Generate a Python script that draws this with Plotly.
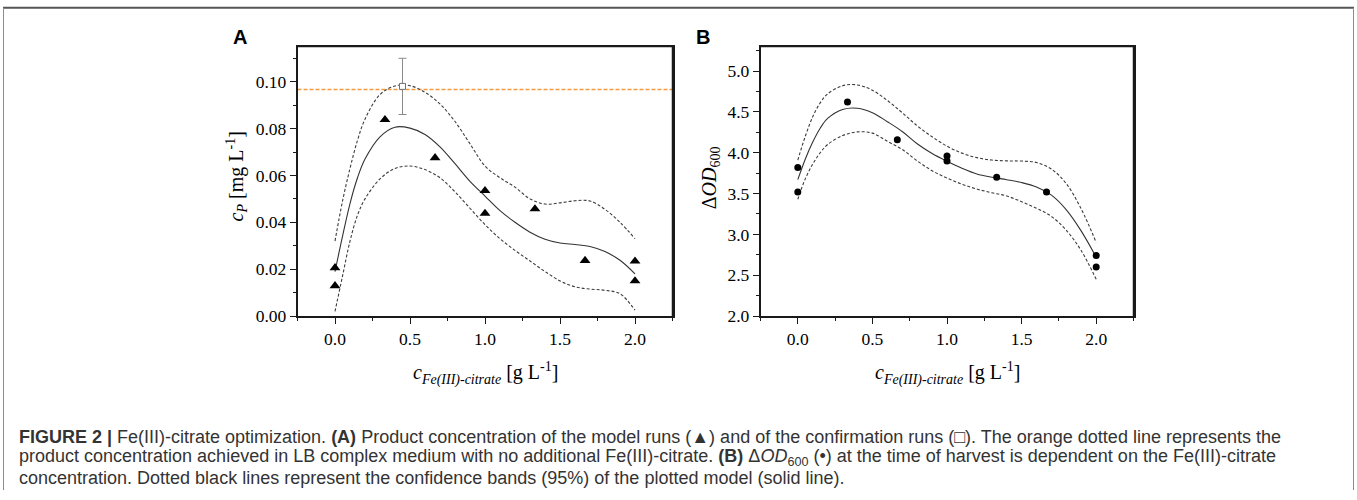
import plotly.graph_objects as go

# ---- Panel A: product concentration vs Fe(III)-citrate ----
fe_runs = [0, 0, 0.333, 0.667, 1.0, 1.0, 1.333, 1.667, 2.0, 2.0]
cp_runs = [0.0206, 0.0129, 0.0838, 0.0675, 0.0535, 0.0438, 0.0457, 0.0237, 0.0234, 0.0150]

confirm_fe = [0.45]
confirm_cp = [0.098]
confirm_err = [0.012]

lb_level = 0.0967  # LB complex medium, no added Fe(III)-citrate

model_fe = [0, 0.05, 0.1, 0.15, 0.2, 0.3, 0.4, 0.5, 0.6, 0.7, 0.8, 0.9, 1.0,
            1.1, 1.2, 1.3, 1.4, 1.5, 1.6, 1.7, 1.8, 1.9, 2.0]
cp_fit = [0.019, 0.034, 0.048, 0.059, 0.067, 0.0765, 0.0806, 0.0802, 0.0775, 0.0722,
          0.0650, 0.0575, 0.0512, 0.0450, 0.0400, 0.0358, 0.0328, 0.0312, 0.0305,
          0.0297, 0.0275, 0.0238, 0.018]
cp_upper = [0.032, 0.049, 0.063, 0.075, 0.084, 0.0945, 0.0982, 0.0983, 0.0955, 0.0905,
            0.0830, 0.0735, 0.0640, 0.0590, 0.0550, 0.0500, 0.0478, 0.0483, 0.0492,
            0.0491, 0.0455, 0.0400, 0.033]
cp_lower = [0.002, 0.017, 0.032, 0.043, 0.050, 0.0585, 0.063, 0.064, 0.0625, 0.059,
            0.053, 0.046, 0.039, 0.033, 0.028, 0.0235, 0.019, 0.015, 0.0125, 0.0115,
            0.011, 0.0095, 0.0025]

# ---- Panel B: delta OD600 vs Fe(III)-citrate ----
od_fe = [0, 0, 0.333, 0.667, 1.0, 1.0, 1.333, 1.667, 2.0, 2.0]
od_vals = [3.82, 3.52, 4.62, 4.16, 3.96, 3.90, 3.70, 3.52, 2.74, 2.60]

od_fit = [3.67, 3.92, 4.13, 4.30, 4.42, 4.53, 4.545, 4.49, 4.38, 4.26, 4.11, 3.99, 3.895,
          3.81, 3.74, 3.70, 3.67, 3.635, 3.58, 3.48, 3.30, 3.04, 2.72]
od_upper = [3.91, 4.20, 4.44, 4.61, 4.72, 4.82, 4.83, 4.765, 4.64, 4.49, 4.33, 4.195, 4.08,
            3.995, 3.94, 3.91, 3.90, 3.898, 3.88, 3.80, 3.62, 3.31, 2.90]
od_lower = [3.43, 3.68, 3.86, 4.00, 4.10, 4.21, 4.255, 4.24, 4.14, 4.04, 3.90, 3.78, 3.69,
            3.615, 3.555, 3.51, 3.47, 3.40, 3.32, 3.22, 3.05, 2.80, 2.45]

W, H = 1357, 500
SERIF = "Liberation Serif, Times New Roman, serif"
SANS = "Liberation Sans, Arial, sans-serif"
INK = "#1a1a1a"

def px_x(p):
    return p / W

def px_y(p):
    return 1 - p / H

# panel boxes in pixels: (left, right), shared (top, bottom)
BOX_A = (297.5, 672.5)
BOX_B = (760.5, 1133.5)
BOX_TOP, BOX_BOTTOM = 47.5, 322.5

fig = go.Figure()

def add_model(xs, fit, up, lo, xa, ya):
    for ys in (up, lo):
        fig.add_trace(go.Scatter(x=xs, y=ys, mode="lines", xaxis=xa, yaxis=ya,
                                 line=dict(color="#3c3c3c", width=1.1, dash="3px,2px", shape="spline"),
                                 hoverinfo="skip"))
    fig.add_trace(go.Scatter(x=xs, y=fit, mode="lines", xaxis=xa, yaxis=ya,
                             line=dict(color="#333333", width=1.1, shape="spline"),
                             hoverinfo="skip"))

add_model(model_fe, cp_fit, cp_upper, cp_lower, "x", "y")
fig.add_trace(go.Scatter(x=fe_runs, y=cp_runs, mode="markers", xaxis="x", yaxis="y",
                         marker=dict(symbol="triangle-up", size=9.5, color="black")))

add_model(model_fe, od_fit, od_upper, od_lower, "x2", "y2")
fig.add_trace(go.Scatter(x=od_fe, y=od_vals, mode="markers", xaxis="x2", yaxis="y2",
                         marker=dict(symbol="circle", size=7, color="black")))

# orange reference level across panel A
fig.add_shape(type="line", xref="x domain", yref="y", x0=0, x1=1, y0=lb_level, y1=lb_level,
              line=dict(color="#f39a3c", width=1.6, dash="4px,2px"), layer="below")

# confirmation run
fig.add_trace(go.Scatter(x=confirm_fe, y=confirm_cp, mode="markers", xaxis="x", yaxis="y",
                         marker=dict(symbol="square", size=6, color="white",
                                     line=dict(width=1, color="#707070")),
                         error_y=dict(type="data", array=confirm_err, color="#8a8a8a",
                                      thickness=1, width=4)))

# closing top and right edges of each panel frame
for left, right in (BOX_A, BOX_B):
    fig.add_shape(type="line", xref="paper", yref="paper",
                  x0=px_x(left), x1=px_x(right), y0=px_y(BOX_TOP), y1=px_y(BOX_TOP),
                  line=dict(color=INK, width=1.5))
    fig.add_shape(type="line", xref="paper", yref="paper",
                  x0=px_x(right), x1=px_x(right), y0=px_y(BOX_TOP), y1=px_y(BOX_BOTTOM),
                  line=dict(color=INK, width=1.5))

dom_y = [px_y(BOX_BOTTOM), px_y(BOX_TOP)]
axis_common = dict(showline=True, mirror=True, linecolor=INK, linewidth=1.5,
                   ticks="outside", ticklen=6, tickwidth=1.2, tickcolor=INK,
                   showgrid=False, zeroline=False,
                   tickfont=dict(family=SERIF, size=17.5, color="black"))

fig.update_layout(
    width=W, height=H,
    margin=dict(l=0, r=0, t=0, b=0),
    paper_bgcolor="white", plot_bgcolor="white",
    showlegend=False,
    xaxis=dict(domain=[px_x(BOX_A[0]), px_x(BOX_A[1])], range=[-0.25, 2.25], anchor="y",
               tickvals=[0, 0.5, 1.0, 1.5, 2.0], tickformat=".1f",
               minor=dict(ticks="outside", ticklen=3, tickcolor=INK, tick0=0, dtick=0.25),
               **axis_common),
    yaxis=dict(domain=dom_y, range=[0, 0.115], anchor="x", tick0=0, dtick=0.02,
               tickformat=".2f",
               minor=dict(ticks="outside", ticklen=3, tickcolor=INK, tick0=0, dtick=0.01),
               **axis_common),
    xaxis2=dict(domain=[px_x(BOX_B[0]), px_x(BOX_B[1])], range=[-0.25, 2.25], anchor="y2",
                tickvals=[0, 0.5, 1.0, 1.5, 2.0], tickformat=".1f",
                minor=dict(ticks="outside", ticklen=3, tickcolor=INK, tick0=0, dtick=0.25),
                **axis_common),
    yaxis2=dict(domain=dom_y, range=[2.0, 5.3], anchor="x2", tick0=2, dtick=0.5,
                tickformat=".1f",
                minor=dict(ticks="outside", ticklen=3, tickcolor=INK, tick0=2, dtick=0.25),
                **axis_common),
)

ann = []
# panel letters
ann.append(dict(x=px_x(240), y=px_y(38), text="<b>A</b>",
                font=dict(family=SANS, size=20, color="black")))
ann.append(dict(x=px_x(703), y=px_y(38), text="<b>B</b>",
                font=dict(family=SANS, size=20, color="black")))
# axis titles
ann.append(dict(x=px_x(237), y=px_y(180), textangle=-90,
                text="<i>c<sub>P</sub></i> [mg L<sup>-1</sup>]",
                font=dict(family=SERIF, size=20, color="black")))
ann.append(dict(x=px_x(710), y=px_y(182), textangle=-90,
                text="Δ<i>OD</i><sub>600</sub>",
                font=dict(family=SERIF, size=20, color="black")))
xtitle = "<i>c<sub>Fe(III)-citrate</sub></i> [g L<sup>-1</sup>]"
ann.append(dict(x=px_x(485), y=px_y(381), text=xtitle,
                font=dict(family=SERIF, size=20, color="black")))
ann.append(dict(x=px_x(947), y=px_y(381), text=xtitle,
                font=dict(family=SERIF, size=20, color="black")))

# figure caption
caption_lines = [
    "<b>FIGURE 2 |</b> Fe(III)-citrate optimization. <b>(A)</b> Product concentration of the model runs (▲) "
    "and of the confirmation runs (□). The orange dotted line represents the",
    "product concentration achieved in LB complex medium with no additional Fe(III)-citrate. "
    "<b>(B)</b> Δ<i>OD</i><sub>600</sub> (•) at the time of harvest is dependent on the Fe(III)-citrate",
    "concentration. Dotted black lines represent the confidence bands (95%) of the plotted model (solid line).",
]
for i, line in enumerate(caption_lines):
    ann.append(dict(x=px_x(17), y=px_y(446 + 21 * i), text=line, xanchor="left",
                    font=dict(family=SANS, size=18, color="#333333")))

for a in ann:
    a.setdefault("xanchor", "center")
    a.update(xref="paper", yref="paper", yanchor="middle", showarrow=False)
fig.update_layout(annotations=ann)

# outer frame
fig.add_shape(type="line", xref="paper", yref="paper", x0=px_x(3), x1=px_x(1354),
              y0=px_y(8), y1=px_y(8), line=dict(color="#555555", width=2))
for xp in (3.5, 1353.5):
    fig.add_shape(type="line", xref="paper", yref="paper", x0=px_x(xp), x1=px_x(xp),
                  y0=px_y(8), y1=px_y(500), line=dict(color="#8c8c8c", width=1))

fig.write_html("out.html")
